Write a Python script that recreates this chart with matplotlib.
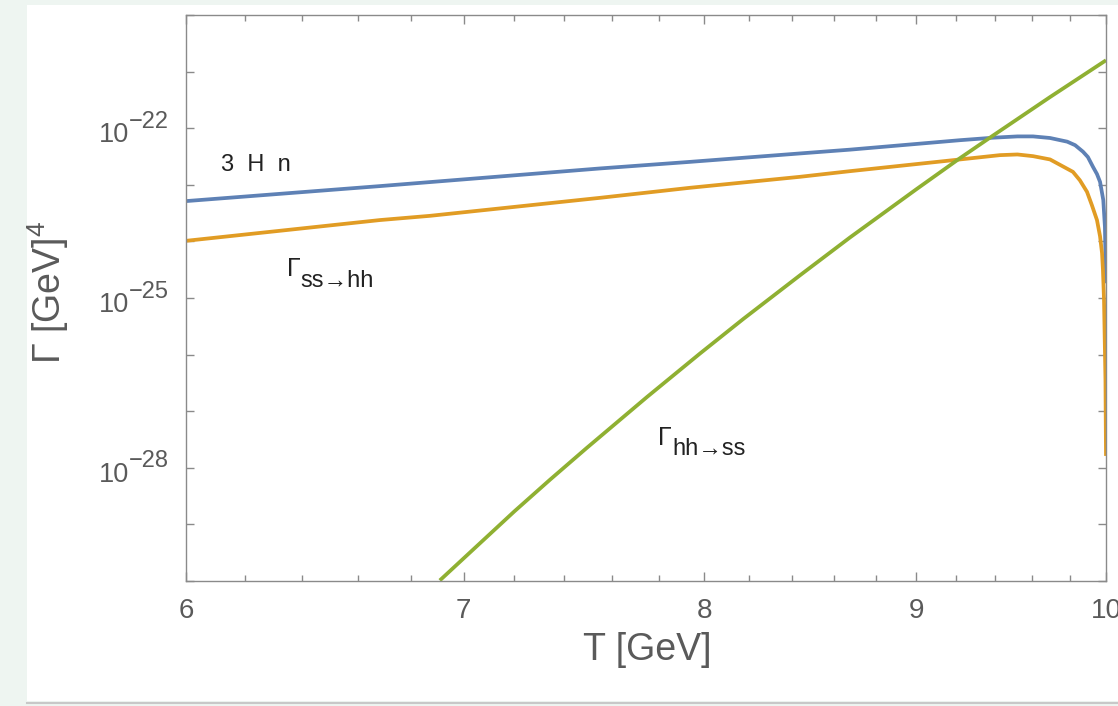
import matplotlib
matplotlib.use("Agg")
import matplotlib.pyplot as plt
import numpy as np
from matplotlib.ticker import FixedLocator, FuncFormatter, NullFormatter, NullLocator
from matplotlib.patches import Rectangle
from matplotlib.lines import Line2D

plt.rcParams['font.family'] = ['Liberation Sans', 'DejaVu Sans']
plt.rcParams['mathtext.fontset'] = 'custom'
plt.rcParams['mathtext.rm'] = 'Liberation Sans'
plt.rcParams['mathtext.it'] = 'Liberation Sans:italic'
plt.rcParams['mathtext.bf'] = 'Liberation Sans:bold'

# ---------------- data (log10 of rate) ----------------
T_3Hn = [6.0, 6.682, 7.551, 7.937, 8.437, 8.675, 9.221, 9.392, 9.52, 9.603,
         9.694, 9.787, 9.83, 9.873, 9.90, 9.928, 9.95, 9.967, 9.985, 9.994, 10.0]
log_3Hn = [-23.288, -23.023, -22.711, -22.595, -22.446, -22.379, -22.212, -22.168,
           -22.145, -22.145, -22.173, -22.238, -22.30, -22.415, -22.51, -22.683,
           -22.81, -22.948, -23.27, -23.742, -24.74]

T_ss_hh = [6.0, 6.682, 6.871, 7.551, 7.937, 8.437, 8.675, 9.221, 9.428, 9.52,
           9.603, 9.694, 9.818, 9.856, 9.895, 9.922, 9.950, 9.967, 9.978, 9.983,
           9.989, 9.997, 10.0]
log_ss_hh = [-23.99, -23.623, -23.548, -23.23, -23.053, -22.859, -22.759, -22.552,
             -22.476, -22.464, -22.494, -22.552, -22.771, -22.92, -23.124, -23.36,
             -23.623, -23.91, -24.206, -24.5, -25.035, -26.45, -27.79]

T_hh_ss = [6.908, 7.2, 7.344, 7.495, 7.75, 7.982, 8.176, 8.437, 8.675, 9.0,
           9.221, 9.392, 9.694, 10.0]
log_hh_ss = [-29.99, -28.77, -28.21, -27.65, -26.75, -25.98, -25.37, -24.60, -23.93,
             -23.08, -22.53, -22.13, -21.45, -20.80]

x_major_ticks = [6, 7, 8, 9, 10]
x_minor_ticks = [6.2, 6.4, 6.6, 6.8, 7.2, 7.4, 7.6, 7.8, 8.2, 8.4, 8.6, 8.8,
                 9.2, 9.4, 9.6, 9.8]
y_decades = list(range(-30, -19))
y_labeled = [-22, -25, -28]

BLUE = '#5e81b5'
ORANGE = '#e19c24'
GREEN = '#8fb032'
GRAY = '#8a8a8a'
TXT = '#5a5a5a'
LBL = '#222222'

fig = plt.figure(figsize=(11.18, 7.06), dpi=100)
fig.patch.set_facecolor('#eef5f1')
bg = Rectangle((27/1118, 1-701/706), 1-27/1118, 696/706,
               transform=fig.transFigure, facecolor='white',
               edgecolor='none', zorder=-10)
fig.patches.append(bg)
fig.lines.append(Line2D([27/1118, 1], [1-703/706, 1-703/706], transform=fig.transFigure,
                        color='#c8c8c8', lw=1.5, zorder=-9))

ax = fig.add_axes([186/1118, 1-581/706, 920/1118, 566/706])
ax.set_zorder(5)
ax.set_facecolor('white')

kw = dict(lw=2.7, solid_capstyle='butt', solid_joinstyle='round')
ax.plot(T_3Hn, 10.0**np.array(log_3Hn), color=BLUE, **kw)
ax.plot(T_ss_hh, 10.0**np.array(log_ss_hh), color=ORANGE, **kw)
ax.plot(T_hh_ss, 10.0**np.array(log_hh_ss), color=GREEN, **kw)

ax.set_xscale('log')
ax.set_yscale('log')
ax.set_xlim(6, 10)
ax.set_ylim(1e-30, 1e-20)

ax.xaxis.set_major_locator(FixedLocator(x_major_ticks))
ax.xaxis.set_major_formatter(FuncFormatter(lambda v, p: f"{v:g}"))
ax.xaxis.set_minor_locator(FixedLocator(x_minor_ticks))
ax.xaxis.set_minor_formatter(NullFormatter())

ax.yaxis.set_major_locator(FixedLocator([10.0**k for k in y_decades]))
ax.yaxis.set_major_formatter(NullFormatter())
ax.yaxis.set_minor_locator(NullLocator())

# y tick labels "10" with a large superscript exponent (Mathematica style)
ytr = ax.get_yaxis_transform()
for k in y_labeled:
    ax.annotate('10', xy=(0, 10.0**k), xycoords=ytr, xytext=(-41.0, -10.0),
                textcoords='offset points', ha='right', va='baseline',
                fontsize=19.5, color=TXT, annotation_clip=False)
    ax.annotate('\u2212%d' % abs(k), xy=(0, 10.0**k), xycoords=ytr, xytext=(-41.0, 0.3),
                textcoords='offset points', ha='left', va='baseline',
                fontsize=17, color=TXT, annotation_clip=False)

for s in ax.spines.values():
    s.set_color(GRAY)
    s.set_linewidth(1.0)

ax.tick_params(axis='both', which='both', direction='in', top=True, right=True,
               color=GRAY, width=1.0, labelcolor=TXT, labelsize=20)
ax.tick_params(axis='x', which='major', length=6.5, pad=12)
ax.tick_params(axis='x', which='minor', length=4)
ax.tick_params(axis='y', which='major', length=6, pad=9)

fig.text(647/1118, 1-650/706, 'T [GeV]', ha='center', va='center', fontsize=27, color=TXT)
fig.text(48/1118, 1-292/706, r'Γ [GeV]$^{4}$', ha='center', va='center', rotation=90,
         fontsize=27, color=TXT)

# curve labels
ax.text(6.118, 10**-22.65, '3  H  n', fontsize=17, color=LBL, ha='left', va='center')

ax.text(6.345, 10**-24.62, 'Γ', fontsize=18, color=LBL, ha='left', va='baseline')
ax.annotate('ss→hh', xy=(6.345, 10**-24.62), xytext=(10.0, -7.3), textcoords='offset points',
            fontsize=17, color=LBL, ha='left', va='baseline')

ax.text(7.798, 10**-27.59, 'Γ', fontsize=18, color=LBL, ha='left', va='baseline')
ax.annotate('hh→ss', xy=(7.798, 10**-27.59), xytext=(10.0, -7.3), textcoords='offset points',
            fontsize=17, color=LBL, ha='left', va='baseline')

fig.savefig('out.png', dpi=100, facecolor=fig.get_facecolor())
